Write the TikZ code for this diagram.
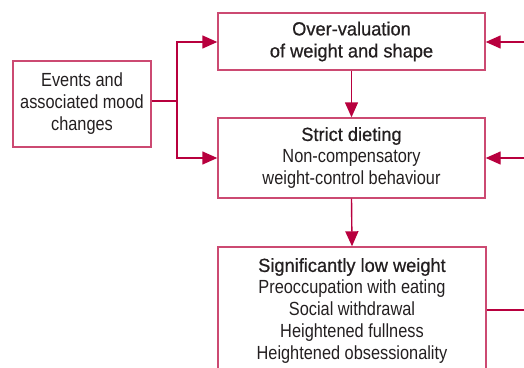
\documentclass[tikz,border=0pt]{standalone}
\usepackage{fontspec}
\setmainfont[FakeStretch=0.86]{Liberation Sans}
\newfontfamily\medfont[FakeStretch=0.96,FakeBold=0.7]{Liberation Sans}
\usetikzlibrary{arrows.meta}
\definecolor{linecol}{HTML}{B8003E}
\definecolor{boxcol}{HTML}{CC4A72}
\definecolor{txtcol}{HTML}{231F20}
\newcommand{\ttl}[1]{{\medfont #1}}
\begin{document}
\begin{tikzpicture}[x=1pt,y=1pt,
  box/.style={draw=boxcol, line width=1.4pt, rectangle, inner sep=0pt, align=center,
    text=txtcol, font=\fontsize{19}{22}\selectfont},
  conn/.style={draw=linecol, line width=1.4pt},
  arr/.style={conn, -{Triangle[length=15pt,width=13pt]}}]
\useasboundingbox (0,0) rectangle (524,-367);
\clip (0,0) rectangle (524,-367);
\node[box, minimum width=267, minimum height=57] (over) at (351.5,-41.5)
  {\ttl{Over-valuation}\\\ttl{of weight and shape}};
\node[box, minimum width=267, minimum height=80] (strict) at (351.5,-158)
  {\ttl{Strict dieting}\\Non-compensatory\\weight-control behaviour};
\node[box, minimum width=268, minimum height=128] (sig) at (352,-311)
  {\ttl{Significantly low weight}\\Preoccupation with eating\\Social withdrawal\\Heightened fullness\\Heightened obsessionality};
\node[box, minimum width=138, minimum height=86] (events) at (82,-104)
  {Events and\\associated mood\\changes};
\coordinate (split) at (177,-101);
\coordinate (rin1) at (524,-42);
\coordinate (rin2) at (524,-158);
\coordinate (rout) at (524,-310);
\draw[conn] (events.east |- split) -- (split);
\draw[arr] (split) |- (over.west |- 0,-42);
\draw[arr] (split) |- (strict.west);
\draw[arr] (over.south) -- (strict.north);
\draw[arr] (strict.south) -- (sig.north);
\draw[arr] (rin1) -- (over.east |- rin1);
\draw[arr] (rin2) -- (strict.east);
\draw[conn] (sig.east |- rout) -- (rout);
\end{tikzpicture}
\end{document}
